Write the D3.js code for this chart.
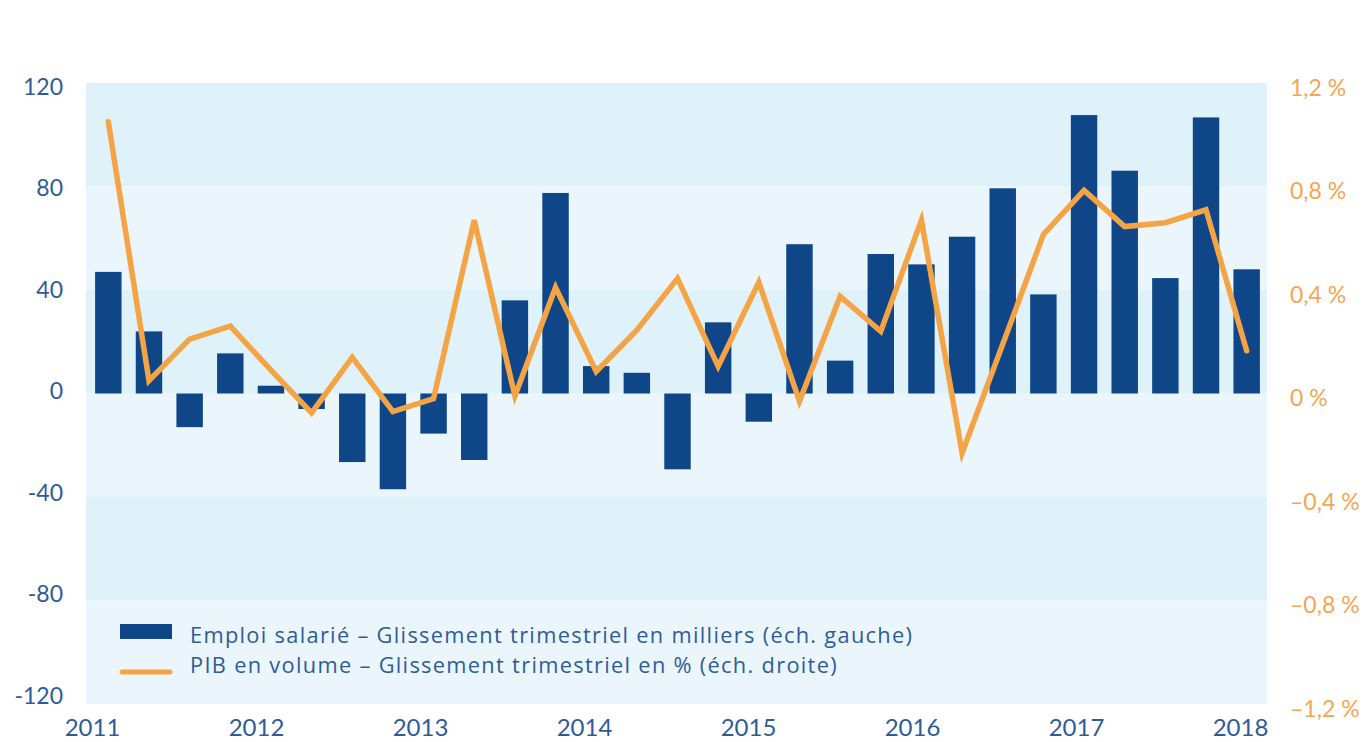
<!DOCTYPE html>
<html>
<head>
<meta charset="utf-8">
<script src="https://cdn.jsdelivr.net/npm/d3@7"></script>
<style>
  body { margin: 0; background: #ffffff; }
  svg { display: block; }
  text { font-family: Lato, "Open Sans", sans-serif; }
</style>
</head>
<body>
<svg id="chart" width="1367" height="742"></svg>
<script>
// ---- data ----
const quarters = [
  "2011T1","2011T2","2011T3","2011T4",
  "2012T1","2012T2","2012T3","2012T4",
  "2013T1","2013T2","2013T3","2013T4",
  "2014T1","2014T2","2014T3","2014T4",
  "2015T1","2015T2","2015T3","2015T4",
  "2016T1","2016T2","2016T3","2016T4",
  "2017T1","2017T2","2017T3","2017T4",
  "2018T1"
];
// Emploi salarié – glissement trimestriel en milliers (left axis)
const emploi = [
  47, 24, -13, 15.5,
  3, -6, -26.5, -37,
  -15.5, -25.7, 36, 77.5,
  10.6, 8, -29.3, 27.5,
  -10.9, 57.7, 12.7, 53.9,
  49.9, 60.6, 79.3, 38.3,
  107.6, 86.1, 44.6, 106.7,
  48
];
// PIB en volume – glissement trimestriel en % (right axis)
const pib = [
  1.05, 0.05, 0.21, 0.26,
  0.09, -0.075, 0.14, -0.07,
  -0.02, 0.67, -0.01, 0.41,
  0.085, 0.245, 0.445, 0.105,
  0.43, -0.03, 0.375, 0.24,
  0.67, -0.23, 0.19, 0.615,
  0.785, 0.645, 0.66, 0.71,
  0.165
];
const years = ["2011","2012","2013","2014","2015","2016","2017","2018"];
const leftTicks = [-120, -80, -40, 0, 40, 80, 120];
const rightTicks = [-1.2, -0.8, -0.4, 0, 0.4, 0.8, 1.2];
const legendLabels = [
  "Emploi salarié – Glissement trimestriel en milliers (éch. gauche)",
  "PIB en volume – Glissement trimestriel en % (éch. droite)"
];

// ---- layout ----
const svg = d3.select("#chart");
const L = 86, R = 1267, T = 83, B = 704;
const colBar = "#0e4687", colLine = "#f5a445";
const colBlue = "#2f5c97", colOrange = "#f4a652";
const bandDark = "#dff1f9", bandLight = "#eaf6fb";

const x = d3.scaleBand().domain(quarters).range([L + 2, R])
  .paddingInner(0.35).paddingOuter(0.175);
const yL = d3.scaleLinear().domain([-120, 120]).range([B, T]);
const yR = d3.scaleLinear().domain([-1.2, 1.2]).range([B, T]);
const yLabel = d3.scaleLinear().domain([-120, 120]).range([695, 86.5]);
const xYear = d3.scalePoint().domain(years).range([92, 1240]);

// background bands
const bandEdges = d3.pairs(leftTicks.slice().reverse());
svg.append("g").selectAll("rect").data(bandEdges).join("rect")
  .attr("x", L).attr("width", R - L)
  .attr("y", d => yL(d[0])).attr("height", d => yL(d[1]) - yL(d[0]))
  .attr("fill", (d, i) => i % 2 === 0 ? bandDark : bandLight);

// bars
svg.append("g").selectAll("rect").data(quarters).join("rect")
  .attr("x", d => x(d)).attr("width", x.bandwidth())
  .attr("y", (d, i) => yL(Math.max(0, emploi[i])))
  .attr("height", (d, i) => Math.abs(yL(emploi[i]) - yL(0)))
  .attr("fill", colBar);

// line
const line = d3.line()
  .x((d, i) => x(quarters[i]) + x.bandwidth() / 2)
  .y(d => yR(d));
svg.append("path").datum(pib)
  .attr("d", line).attr("fill", "none")
  .attr("stroke", colLine).attr("stroke-width", 5.5)
  .attr("stroke-linecap", "round").attr("stroke-linejoin", "miter");

// left axis
const axL = svg.append("g").attr("transform", `translate(63,0)`)
  .call(d3.axisLeft(yLabel).tickValues(leftTicks).tickSize(0).tickPadding(0)
    .tickFormat(d => String(d)));
axL.select(".domain").remove();
axL.selectAll("text").attr("fill", colBlue).attr("font-size", 23)
  .attr("dy", "0.35em");

// right axis
const fmt = v => v === 0 ? "0 %" : (v < 0 ? "–" : "") + d3.format(".1f")(Math.abs(v)).replace(".", ",") + " %";
const axR = svg.append("g").attr("transform", `translate(1290,4)`)
  .call(d3.axisRight(yR).tickValues(rightTicks).tickSize(0).tickPadding(0)
    .tickFormat(fmt));
axR.select(".domain").remove();
axR.selectAll("text").attr("fill", colOrange).attr("font-size", 23)
  .attr("dy", "0.35em");

// x axis (years)
const axX = svg.append("g").attr("transform", `translate(0,728)`)
  .call(d3.axisBottom(xYear).tickSize(0).tickPadding(0));
axX.select(".domain").remove();
axX.selectAll("text").attr("fill", colBlue).attr("font-size", 24)
  .attr("dy", "0.35em");

// legend
const lg = svg.append("g");
lg.append("rect").attr("x", 120).attr("y", 624).attr("width", 52).attr("height", 15)
  .attr("fill", colBar);
lg.append("line").attr("x1", 122).attr("x2", 170).attr("y1", 672).attr("y2", 672)
  .attr("stroke", colLine).attr("stroke-width", 5).attr("stroke-linecap", "round");
const legendWidth = 722; // target width of the first legend line
const lt = lg.selectAll("text").data(legendLabels).join("text")
  .attr("x", 190).attr("y", (d, i) => i === 0 ? 642.5 : 672.5)
  .attr("fill", colBlue).attr("font-size", 21.8)
  .style("font-family", "'Open Sans', sans-serif")
  .text(d => d);
const n0 = legendLabels[0].length;
const w0 = lt.nodes()[0].getComputedTextLength();
if (w0 > 0) lt.attr("letter-spacing", Math.max(0, (legendWidth - w0) / (n0 - 1)));
</script>
</body>
</html>
